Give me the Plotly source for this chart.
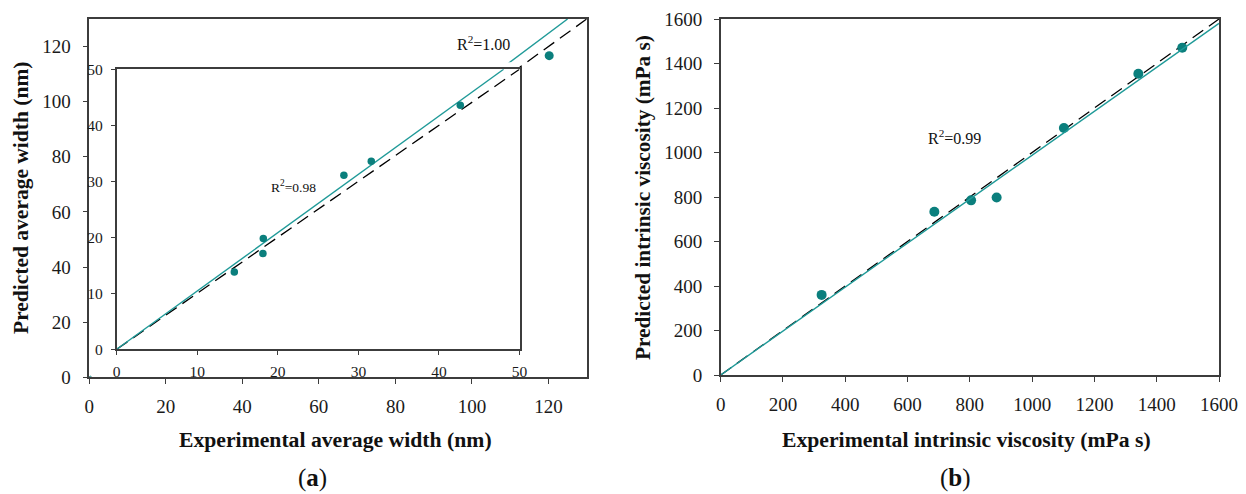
import plotly.graph_objects as go

W, H = 1246, 494

# ---------------- data ----------------
# Panel (a) inset: experimental vs predicted average width (nm)
inset_exp = [14.6, 18.2, 18.15, 28.2, 31.6, 42.65]
inset_pred = [13.8, 19.8, 17.1, 31.1, 33.6, 43.6]
# Panel (a) main: the large-width sample
main_exp = [120.2]
main_pred = [116.7]
slope_a_main = 1.04
slope_a_inset = 1.041
r2_a_main = "1.00"
r2_a_inset = "0.98"

# Panel (b): experimental vs predicted intrinsic viscosity (mPa s)
visc_exp = [324, 686, 804, 886, 1102, 1341, 1482]
visc_pred = [360, 734, 785, 798, 1110, 1354, 1471]
slope_b = 0.988
r2_b = "0.99"

range_a = [0, 130]
range_inset = [0, 50]
range_b = [0, 1600]
ticks_a = [0, 20, 40, 60, 80, 100, 120]
ticks_inset = [0, 10, 20, 30, 40, 50]
ticks_b = [0, 200, 400, 600, 800, 1000, 1200, 1400, 1600]

# ---------------- styles ----------------
TEAL_PT = "#0b7f7d"
TEAL_LN = "#1f9a98"
AX = "#3c3c3c"
SERIF = "Liberation Serif"


def px2fx(px):
    return px / W


def px2fy(py):
    return 1 - py / H


fig = go.Figure()

# --- Panel (a) main axes ---
amax = range_a[1]
fig.add_trace(go.Scatter(x=[0, amax], y=[0, amax], mode="lines",
                         line=dict(color="black", width=1.3, dash="13px,7px"),
                         xaxis="x", yaxis="y", hoverinfo="skip"))
fig.add_trace(go.Scatter(x=[0, amax / slope_a_main], y=[0, amax], mode="lines",
                         line=dict(color=TEAL_LN, width=1.4),
                         xaxis="x", yaxis="y", hoverinfo="skip"))
# white panel behind the inset chart (hides main-axis lines there)
ix0, ix1 = 0.3, 112.4
iy0, iy1 = 0.3, 114.3
fig.add_trace(go.Scatter(x=[ix0, ix1, ix1, ix0, ix0], y=[iy0, iy0, iy1, iy1, iy0],
                         mode="lines", fill="toself", fillcolor="white",
                         line=dict(width=0, color="white"),
                         xaxis="x", yaxis="y", hoverinfo="skip"))
fig.add_trace(go.Scatter(x=main_exp, y=main_pred, mode="markers",
                         marker=dict(color=TEAL_PT, size=9),
                         xaxis="x", yaxis="y"))

# --- Inset ---
imax = range_inset[1]
fig.add_trace(go.Scatter(x=[0, imax], y=[0, imax], mode="lines",
                         line=dict(color="black", width=1.3, dash="13px,7px"),
                         xaxis="x3", yaxis="y3", hoverinfo="skip"))
fig.add_trace(go.Scatter(x=[0, imax / slope_a_inset], y=[0, imax], mode="lines",
                         line=dict(color=TEAL_LN, width=1.4),
                         xaxis="x3", yaxis="y3", hoverinfo="skip"))
fig.add_trace(go.Scatter(x=inset_exp, y=inset_pred, mode="markers",
                         marker=dict(color=TEAL_PT, size=7.5),
                         xaxis="x3", yaxis="y3"))

# --- Panel (b) ---
bmax = range_b[1]
fig.add_trace(go.Scatter(x=[0, bmax], y=[0, bmax], mode="lines",
                         line=dict(color="black", width=1.3, dash="13px,7px"),
                         xaxis="x2", yaxis="y2", hoverinfo="skip"))
fig.add_trace(go.Scatter(x=visc_exp, y=visc_pred, mode="markers",
                         marker=dict(color=TEAL_PT, size=10),
                         xaxis="x2", yaxis="y2"))
fig.add_trace(go.Scatter(x=[0, bmax], y=[0, bmax * slope_b], mode="lines",
                         line=dict(color=TEAL_LN, width=1.4),
                         xaxis="x2", yaxis="y2", hoverinfo="skip"))


def axis(domain, rng, ticks, size, anchor, standoff, ticklen=5):
    return dict(domain=domain, range=rng, tickmode="array", tickvals=ticks,
                ticktext=[str(t) for t in ticks], ticks="outside", ticklen=ticklen,
                tickwidth=1.3, tickcolor=AX, showline=True, linecolor=AX, linewidth=1.5,
                mirror=True, showgrid=False, zeroline=False, anchor=anchor,
                automargin=False,
                tickfont=dict(family=SERIF, size=size, color="#1a1a1a"),
                ticklabelstandoff=standoff, fixedrange=True)


# pixel geometry
a_l, a_r, a_t, a_b = 89.3, 586.7, 19.0, 377.3
b_l, b_r, b_t, b_b = 720.7, 1219.0, 19.0, 375.0
i_l, i_r, i_t, i_b = 116.7, 519.5, 69.3, 349.3

fig.update_layout(
    width=W, height=H, margin=dict(l=0, r=0, t=0, b=0, autoexpand=False),
    paper_bgcolor="white", plot_bgcolor="white", showlegend=False,
    xaxis=axis([px2fx(a_l), px2fx(a_r)], range_a, ticks_a, 19, "y", 6),
    yaxis=axis([px2fy(a_b), px2fy(a_t)], range_a, ticks_a, 19, "x", 8),
    xaxis2=axis([px2fx(b_l), px2fx(b_r)], range_b, ticks_b, 19, "y2", 6),
    yaxis2=axis([px2fy(b_b), px2fy(b_t)], range_b, ticks_b, 19, "x2", 8),
    xaxis3=axis([px2fx(i_l), px2fx(i_r)], range_inset, ticks_inset, 15.5, "y3", 3, 4),
    yaxis3=axis([px2fy(i_b), px2fy(i_t)], range_inset, ticks_inset, 15.5, "x3", 5, 4),
)

ann = []


def txt(text, cx, cy, size, bold=False, family=SERIF, angle=0):
    ann.append(dict(text=f"<b>{text}</b>" if bold else text, x=px2fx(cx), y=px2fy(cy),
                    xref="paper", yref="paper", showarrow=False, xanchor="center",
                    yanchor="middle", textangle=angle,
                    font=dict(family=family, size=size, color="#111111")))


txt("Experimental average width (nm)", 335, 440, 21.7, bold=True)
txt("Predicted average width (nm)", 21, 198, 21.5, bold=True, angle=-90)
txt("Experimental intrinsic viscosity (mPa s)", 966, 440, 21.7, bold=True)
txt("Predicted intrinsic viscosity (mPa s)", 643, 198, 21.3, bold=True, angle=-90)
txt("(<b>a</b>)", 312, 478, 25)
txt("(<b>b</b>)", 955, 478, 25)
txt(f"R<sup>2</sup>={r2_a_main}", 483, 43, 16)
txt(f"R<sup>2</sup>={r2_a_inset}", 293, 187, 13.5)
txt(f"R<sup>2</sup>={r2_b}", 954, 137, 16)
fig.update_layout(annotations=ann)

fig.write_html("out.html", config=dict(displayModeBar=False),
               post_script="document.body.style.margin='0';document.body.style.overflow='hidden';")
